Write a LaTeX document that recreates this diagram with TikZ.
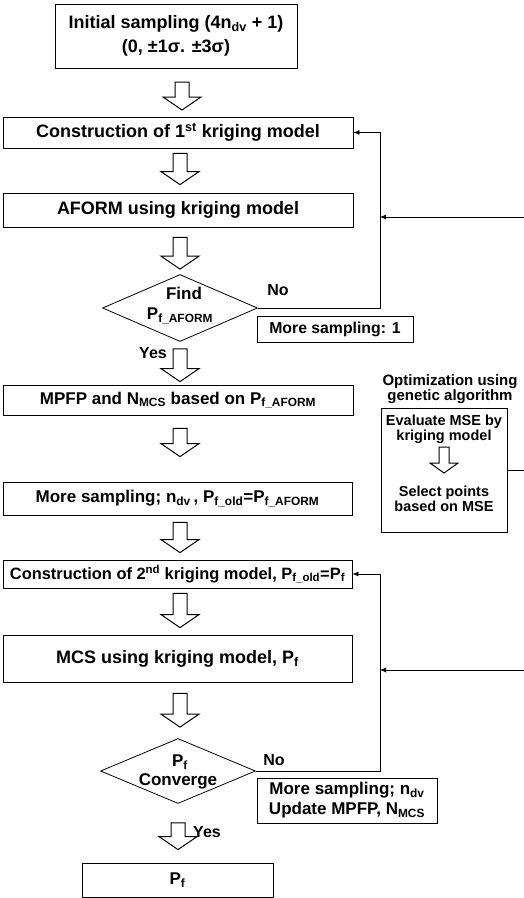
\documentclass[tikz,border=0pt]{standalone}
\usepackage{fontspec}
\setmainfont{Liberation Sans}
\usetikzlibrary{shapes.geometric,arrows.meta,calc}
\newcommand\fs[1]{\bfseries\fontsize{#1}{#1}\selectfont}
\newcommand\blockarr[2]{\draw[barr] let \p1=(#1), \p2=(#2) in
  (\x1-7pt,\y1) -- (\x1+7pt,\y1) -- (\x1+7pt,\y2+13pt) -- (\x1+19pt,\y2+13pt)
  -- (\x1,\y2) -- (\x1-19pt,\y2+13pt) -- (\x1-7pt,\y2+13pt) -- cycle;}
\newcommand\smallarr[2]{\draw[barr] let \p1=(#1), \p2=(#2) in
  (\x1-5pt,\y1) -- (\x1+5pt,\y1) -- (\x1+5pt,\y2+10pt) -- (\x1+14pt,\y2+10pt)
  -- (\x1,\y2) -- (\x1-14pt,\y2+10pt) -- (\x1-5pt,\y2+10pt) -- cycle;}
\begin{document}
\begin{tikzpicture}[x=1pt,y=-1pt,
  box/.style={draw,line width=0.8pt,inner sep=0pt,align=center,font=\fs{18}},
  dia/.style={draw,diamond,line width=0.8pt,inner sep=0pt},
  lbl/.style={inner sep=0pt,align=center,font=\fs{16}},
  fb/.style={line width=0.8pt},
  fba/.style={line width=0.8pt,-{Latex[length=6pt,width=5pt]}},
  barr/.style={line width=1pt,line join=miter}
]
\fill[white] (0,0) rectangle (524,898);
\useasboundingbox (0,0) rectangle (524,898);

% main column
\node[box,minimum width=242pt,minimum height=64pt] (b1) at (176,36)
  {Initial sampling (4n\textsubscript{dv} + 1)\\[6pt](0, ±1σ. ±3σ)};
\node[box,minimum width=350pt,minimum height=31pt] (b2) at (178,132.5)
  {Construction of 1\textsuperscript{st} kriging model};
\node[box,minimum width=350pt,minimum height=34pt] (b3) at (178,210)
  {AFORM using kriging model};
\node[dia,minimum width=155pt,minimum height=67pt] (d1) at (180,308) {};
\node[lbl,font=\fs{17}] (d1a) at (184,293) {Find};
\node[lbl,font=\fs{17}] (d1b) at (180,316) {P\textsubscript{f\_AFORM}};
\node[box,font=\fs{15.8},minimum width=156pt,minimum height=26pt] (ms1) at (335,329)
  {More sampling: 1};
\node[box,font=\fs{17},minimum width=350pt,minimum height=30pt] (b4) at (178,400)
  {MPFP and N\textsubscript{MCS} based on P\textsubscript{f\_AFORM}};
\node[box,font=\fs{17},minimum width=349pt,minimum height=33pt] (b5) at (177.5,498.5)
  {More sampling; n\textsubscript{dv}\,, P\textsubscript{f\_old}=P\textsubscript{f\_AFORM}};
\node[box,font=\fs{16.4},minimum width=349pt,minimum height=28pt] (b6) at (177.5,574)
  {Construction of 2\textsuperscript{nd} kriging model, P\textsubscript{f\_old}=P\textsubscript{f}};
\node[box,minimum width=349pt,minimum height=47pt] (b7) at (177.5,658.5)
  {MCS using kriging model, P\textsubscript{f}};
\node[dia,minimum width=155pt,minimum height=65pt] (d2) at (178,771) {};
\node[lbl,font=\fs{17}] (d2a) at (180,762) {P\textsubscript{f}};
\node[lbl,font=\fs{17}] (d2b) at (178,781) {Converge};
\node[box,font=\fs{17},minimum width=180pt,minimum height=45pt,line width=0.6pt] (ms2) at (347,800.5)
  {More sampling; n\textsubscript{dv}\\[3pt]Update MPFP, N\textsubscript{MCS}};
\node[box,font=\fs{17},minimum width=191pt,minimum height=34pt] (fin) at (177.5,880)
  {P\textsubscript{f}};

% labels
\node[lbl] (no1) at (278,290) {No};
\node[lbl] (yes1) at (153,353) {Yes};
\node[lbl] (no2) at (274,760) {No};
\node[lbl] (yes2) at (207,832) {Yes};

% optimization block
\node[lbl,font=\fs{15}] (optt) at (450,389) {Optimization using\\genetic algorithm};
\node[draw,line width=0.8pt,minimum width=126pt,minimum height=124pt,inner sep=0pt] (opt) at (444,470) {};
\node[lbl,font=\fs{14.5}] (ev) at (444,429.5) {Evaluate MSE by\\kriging model};
\node[lbl,font=\fs{14.5}] (sel) at (444,499) {Select points\\based on MSE};
\smallarr{444,447}{444,473}

% block arrows
\blockarr{182,82}{182,110}
\blockarr{[xshift=2pt,yshift=-5pt]b2.south}{[xshift=2pt,yshift=8pt]b3.north}
\blockarr{[xshift=2pt,yshift=-10pt]b3.south}{[yshift=5pt]d1.north}
\blockarr{[yshift=-7pt]d1.south}{[xshift=2pt,yshift=3pt]b4.north}
\blockarr{[xshift=2pt,yshift=-13pt]b4.south}{[xshift=2pt,yshift=25pt]b5.north}
\blockarr{[xshift=2.5pt,yshift=-7pt]b5.south}{[xshift=2.5pt,yshift=7pt]b6.north}
\blockarr{[xshift=2.5pt,yshift=-5pt]b6.south}{[xshift=2.5pt,yshift=7pt]b7.north}
\blockarr{[xshift=2.5pt,yshift=-11pt]b7.south}{[yshift=11pt]d2.north}
\blockarr{[yshift=-19pt]d2.south}{[xshift=1.5pt,yshift=13pt]fin.north}

% feedback loops
\coordinate (r1) at (380,0);
\coordinate (in1) at (524,217);
\coordinate (in2) at (524,670);
\coordinate (out1) at (524,470);
\draw[fba] (d1.east) -- (d1.east -| r1) -- (r1 |- b2.east) -- (b2.east);
\draw[fba] (in1) -- (in1 -| r1);
\draw[fba] (d2.east) -- (d2.east -| r1) -- (r1 |- b6.east) -- (b6.east);
\draw[fba] (in2) -- (in2 -| r1);
\draw[fb] (opt.east) -- (out1);
\end{tikzpicture}
\end{document}
